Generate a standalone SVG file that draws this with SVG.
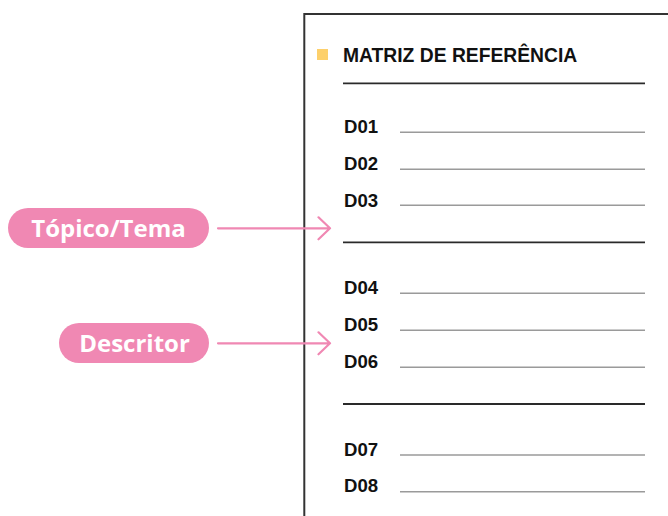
<svg xmlns="http://www.w3.org/2000/svg" width="668" height="516" viewBox="0 0 668 516">
<style>
.lbl{font-family:"Liberation Sans",Arial,sans-serif;font-weight:bold;font-size:18.6px;fill:#111}
.title{font-family:"Liberation Sans",Arial,sans-serif;font-weight:bold;font-size:19.3px;fill:#111}
.pilltxt{font-family:"Open Sans","Liberation Sans",sans-serif;font-weight:700;font-size:24px;fill:#fff}
.pill{fill:#F088B3}
.row{stroke:#9a9a9a;stroke-width:1.5}
.sep{stroke:#2a2a2a;stroke-width:1.8}
.conn{stroke:#F088B3;stroke-width:2.2;fill:none;stroke-linecap:round;stroke-linejoin:round}
</style>
<rect width="668" height="516" fill="#fff"/>
<g id="frame">
<path d="M304.3 516 V14 H668" fill="none" stroke="#333" stroke-width="2"/>
<rect x="317" y="49" width="11" height="11" fill="#FDD06B"/>
<text class="title" x="343" y="62">MATRIZ DE REFERÊNCIA</text>
<line class="sep" x1="343" y1="83.3" x2="645" y2="83.3"/>
<line class="sep" x1="343" y1="242.3" x2="645" y2="242.3"/>
<line class="sep" x1="343" y1="404" x2="645" y2="404"/>
</g>
<g id="rows">
<text class="lbl" x="344" y="133">D01</text><line class="row" x1="400" y1="132.3" x2="645" y2="132.3"/>
<text class="lbl" x="344" y="170">D02</text><line class="row" x1="400" y1="169.3" x2="645" y2="169.3"/>
<text class="lbl" x="344" y="206.5">D03</text><line class="row" x1="400" y1="205.3" x2="645" y2="205.3"/>
<text class="lbl" x="344" y="294">D04</text><line class="row" x1="400" y1="293.3" x2="645" y2="293.3"/>
<text class="lbl" x="344" y="331">D05</text><line class="row" x1="400" y1="330.3" x2="645" y2="330.3"/>
<text class="lbl" x="344" y="368">D06</text><line class="row" x1="400" y1="367.3" x2="645" y2="367.3"/>
<text class="lbl" x="344" y="455.5">D07</text><line class="row" x1="400" y1="455" x2="645" y2="455"/>
<text class="lbl" x="344" y="492">D08</text><line class="row" x1="400" y1="491.7" x2="645" y2="491.7"/>
</g>
<g id="topico">
<rect class="pill" x="8" y="208" width="201" height="40" rx="20"/>
<text class="pilltxt" x="108.5" y="236.5" text-anchor="middle">Tópico/Tema</text>
</g>
<g id="descritor">
<rect class="pill" x="59" y="323" width="150" height="40" rx="20"/>
<text class="pilltxt" x="134.5" y="351.5" text-anchor="middle">Descritor</text>
</g>
<g id="connectors">
<path class="conn" d="M218 228.3 H330 M318.5 217.3 L330 228.3 L318.5 239.3"/>
<path class="conn" d="M218 343.3 H330 M318.5 332.3 L330 343.3 L318.5 354.3"/>
</g>
</svg>
